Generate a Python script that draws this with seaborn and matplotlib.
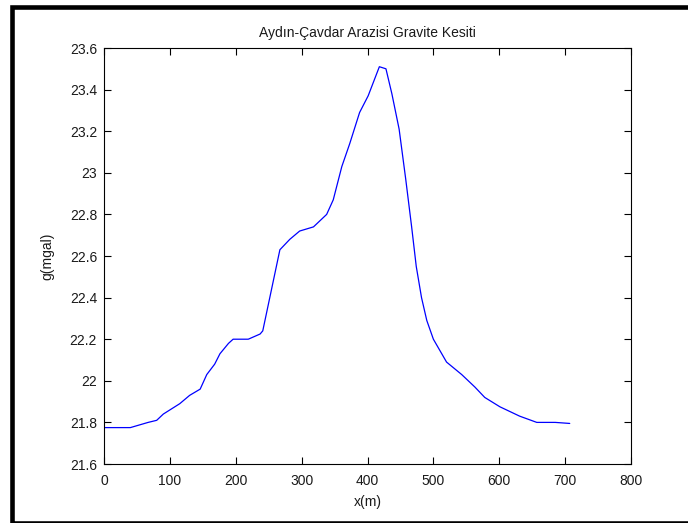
import matplotlib
matplotlib.use("Agg")
import matplotlib.pyplot as plt
from matplotlib.patches import Rectangle
import seaborn as sns
import pandas as pd

x_m = [0, 40, 67, 80, 90, 115, 130, 146, 156, 168, 176, 189, 196, 219, 237, 241,
       267, 282, 297, 318, 338, 348, 361, 373, 388, 401, 418, 428, 437, 448, 458,
       467, 474, 482, 490, 500, 520, 543, 563, 578, 601, 631, 657, 685, 707]
g_mgal = [21.775, 21.775, 21.80, 21.81, 21.84, 21.89, 21.93, 21.96, 22.03, 22.08, 22.13,
          22.18, 22.20, 22.20, 22.225, 22.24, 22.63, 22.68, 22.72, 22.74, 22.80, 22.87,
          23.03, 23.14, 23.29, 23.37, 23.51, 23.50, 23.38, 23.21, 22.97, 22.74, 22.55,
          22.40, 22.29, 22.20, 22.09, 22.03, 21.97, 21.92, 21.875, 21.83, 21.80, 21.80,
          21.795]

title = "Aydın-Çavdar Arazisi Gravite Kesiti"
xlabel = "x(m)"
ylabel = "g(mgal)"
xticks = [0, 100, 200, 300, 400, 500, 600, 700, 800]
yticks = [21.6, 21.8, 22, 22.2, 22.4, 22.6, 22.8, 23, 23.2, 23.4, 23.6]
ytick_labels = ["21.6", "21.8", "22", "22.2", "22.4", "22.6", "22.8", "23", "23.2", "23.4", "23.6"]

sns.set_theme(style="white")
plt.rcParams['font.family'] = ['Liberation Sans', 'DejaVu Sans']

fig = plt.figure(figsize=(6.88, 5.23), dpi=100)
ax = fig.add_axes([104 / 688, 1 - 464 / 523, (631 - 104) / 688, (464 - 48) / 523])

df = pd.DataFrame({"x": x_m, "g": g_mgal})
sns.lineplot(data=df, x="x", y="g", ax=ax, color=(0, 0, 1), linewidth=0.9, sort=False)

ax.set_xlim(0, 800)
ax.set_ylim(21.6, 23.6)
ax.set_xticks(xticks)
ax.set_xticklabels([str(v) for v in xticks])
ax.set_yticks(yticks)
ax.set_yticklabels(ytick_labels)
ax.tick_params(direction="in", length=5, width=0.8, color="black",
               top=True, right=True, bottom=True, left=True,
               labelsize=10, labelcolor="#1a1a1a")
ax.tick_params(axis="x", pad=7)
ax.tick_params(axis="y", pad=5)
for s in ax.spines.values():
    s.set_visible(True)
    s.set_color("black")
    s.set_linewidth(0.8)
ax.set_title(title, fontsize=10, color="#1a1a1a", pad=8)
ax.set_xlabel(xlabel, fontsize=10, color="#1a1a1a", labelpad=5)
ax.set_ylabel(ylabel, fontsize=10, color="#1a1a1a", labelpad=11)
ax.grid(False)

# Outer black frame (cropped on right/bottom like the reference)
frame = Rectangle((12.3 / 688, -0.0008), 1.2, 1 - 7.3 / 523 + 0.0008,
                  transform=fig.transFigure, fill=False, edgecolor="black",
                  linewidth=3.3, clip_on=False)
fig.patches.append(frame)

fig.savefig("out.png", dpi=100, facecolor="white")
